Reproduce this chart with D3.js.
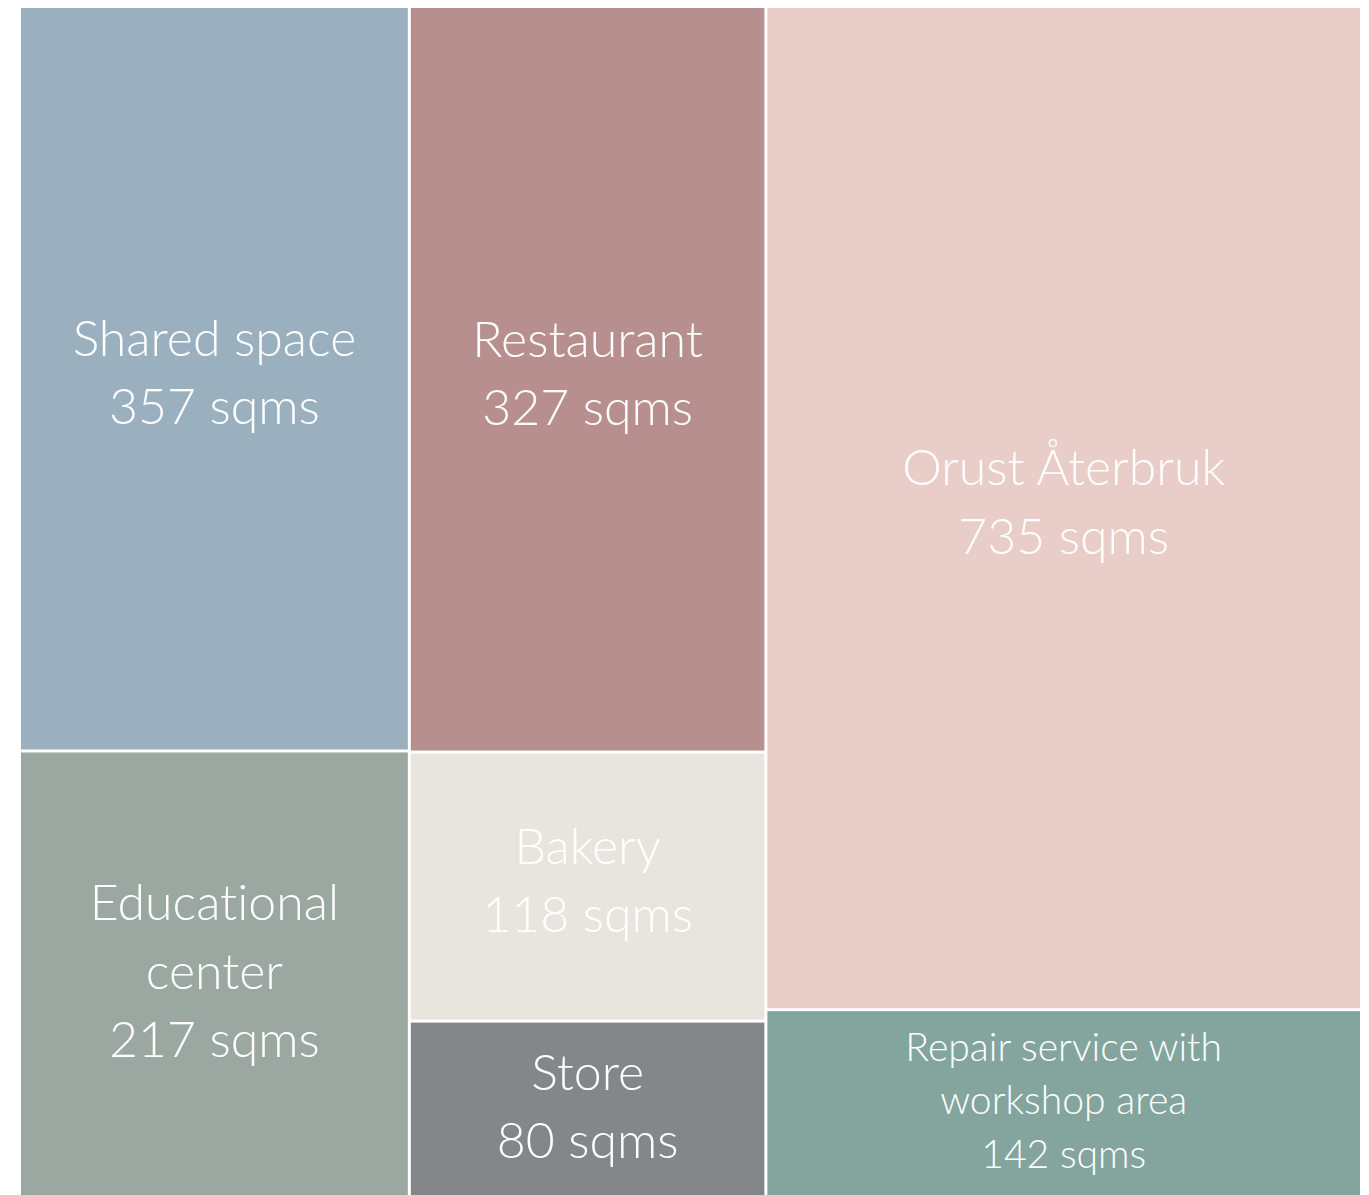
<!DOCTYPE html>
<html>
<head>
<meta charset="utf-8">
<script src="https://cdn.jsdelivr.net/npm/d3@7"></script>
<style>
  body { margin: 0; background: #fff; }
  svg { display: block; }
  text { font-family: Lato, "Open Sans", sans-serif; font-weight: 300; fill: #fff; font-variant-ligatures: none; }
</style>
</head>
<body>
<svg width="1369" height="1195"></svg>
<script>
// tiles, in drawing order; group = column in the treemap
const categories = ["Shared space", "Educational\ncenter", "Restaurant", "Bakery", "Store", "Orust Återbruk", "Repair service with\nworkshop area"];
const values = [357, 217, 327, 118, 80, 735, 142];
const groups = [0, 0, 1, 1, 1, 2, 2];
const colors = ["#9ab0bf", "#9ba7a1", "#b78f8f", "#e8e5df", "#85868a", "#e8cdc9", "#83a59e"];

const svg = d3.select("svg");
const marginLeft = 21, marginTop = 8, width = 1339, height = 1194;

const columns = d3.groups(categories.map((c, i) => ({ name: c, value: values[i], color: colors[i], group: groups[i] })), d => d.group)
    .map(([g, leaves]) => ({ name: "col" + g, children: leaves }));

const root = d3.hierarchy({ name: "root", children: columns })
    .sum(d => d.value || 0);

d3.treemap()
    .tile(d3.treemapSliceDice)
    .size([width, height])
    .paddingInner(3)(root);

const g = svg.append("g").attr("transform", `translate(${marginLeft},${marginTop})`);

const cell = g.selectAll("g.cell")
    .data(root.leaves())
    .enter()
    .append("g")
    .attr("class", "cell")
    .attr("transform", d => `translate(${d.x0},${d.y0})`);

cell.append("rect")
    .attr("width", d => d.x1 - d.x0)
    .attr("height", d => d.y1 - d.y0)
    .attr("fill", d => d.data.color);

// labels: name lines + area, shrunk when the tile is too short
cell.each(function(d) {
    const w = d.x1 - d.x0, h = d.y1 - d.y0;
    const lines = d.data.name.split("\n").concat([d.data.value + " sqms"]);
    const size = Math.min(50, (h - 30) / (lines.length * 1.37));
    const lh = size * 1.37;
    const cy = h / 2 - 6;
    const t = d3.select(this).append("text")
        .attr("text-anchor", "middle")
        .attr("font-size", size);
    lines.forEach((line, i) => {
        t.append("tspan")
            .attr("x", w / 2)
            .attr("y", cy + (i - (lines.length - 1) / 2) * lh)
            .attr("dy", "0.35em")
            .text(line);
    });
});
</script>
</body>
</html>
